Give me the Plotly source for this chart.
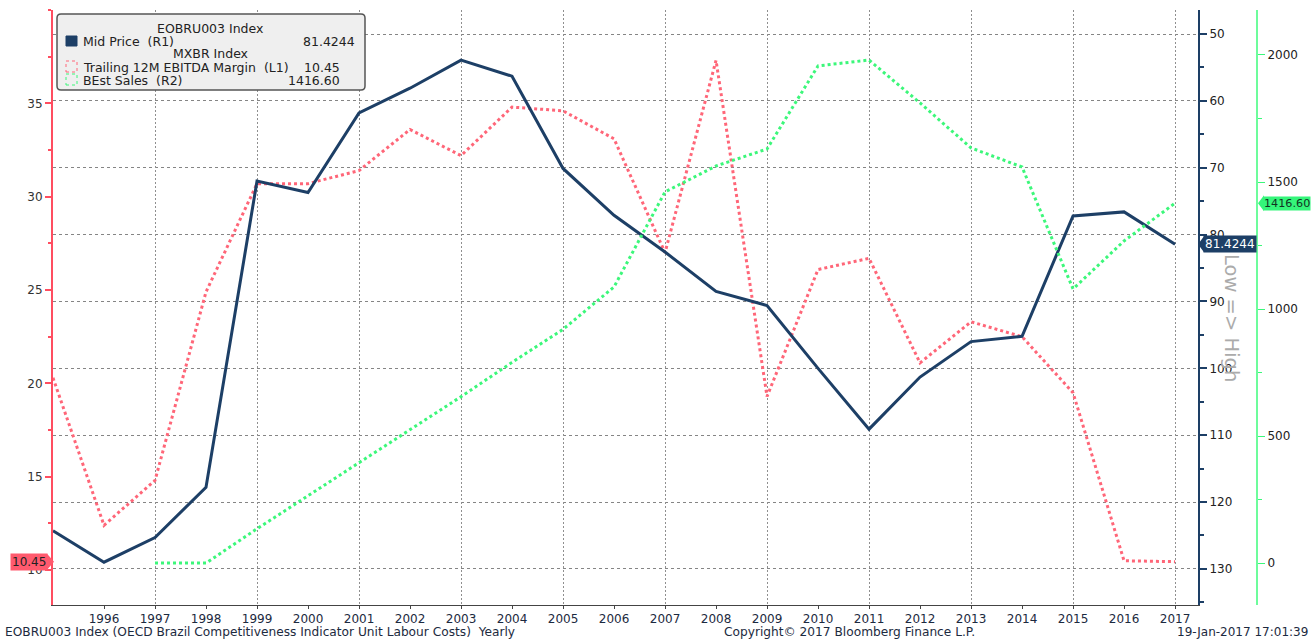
import plotly.graph_objects as go

# ---------------- data ----------------
years = list(range(1995, 2018))
mid_price = [124.3, 129.0, 125.3, 117.8, 72.0, 73.7, 61.8, 58.1, 53.9, 56.3, 70.1,
             77.1, 82.6, 88.5, 90.6, 100.0, 109.1, 101.3, 96.0, 95.2, 77.2, 76.6, 81.4244]
ebitda_margin = [20.3, 12.4, 14.8, 24.9, 30.7, 30.7, 31.4, 33.6, 32.2, 34.8, 34.6,
                 33.1, 27.0, 37.3, 19.3, 26.1, 26.7, 21.1, 23.3, 22.5, 19.5, 10.5, 10.45]
best_sales = [None, None, 0, 0, 135, 265, 395, 525, 655, 790, 920,
              1087, 1461, 1563, 1630, 1957, 1980, 1811, 1634, 1559, 1079, 1268, 1416.60]
year_ticks = list(range(1996, 2018))
grid_years = list(range(1997, 2018, 2))
left_ticks = [10, 15, 20, 25, 30, 35]
r1_ticks = [50, 60, 70, 80, 90, 100, 110, 120, 130]
r2_ticks = [0, 500, 1000, 1500, 2000]

NAVY = "#1d3f66"
RED = "#ff6678"
REDAX = "#ff4d60"
GREEN = "#3cf77a"
GREENAX = "#6dfc9c"
TXT = "#1c2a40"
FONT = "DejaVu Sans"

W, H = 1312, 639
ML, MR, MT, MB = 53, 50, 10, 34
PW = W - ML - MR
PH = H - MT - MB

Y1 = [8.13, 40.0]
Y2 = [135.4, 46.4]
Y3 = [-165, 2177]


def px(x):
    return (x - ML) / PW


def py(y):
    return (H - MB - y) / PH


fig = go.Figure()
fig.add_trace(go.Scatter(x=years, y=ebitda_margin, xaxis="x", yaxis="y", mode="lines",
                         line=dict(color=RED, width=3, dash="dot"), showlegend=False,
                         name="Trailing 12M EBITDA Margin (L1)"))
fig.add_trace(go.Scatter(x=years, y=best_sales, xaxis="x2", yaxis="y3", mode="lines",
                         line=dict(color=GREEN, width=3, dash="dot"), showlegend=False,
                         name="BEst Sales (R2)"))
fig.add_trace(go.Scatter(x=years, y=mid_price, xaxis="x", yaxis="y2", mode="lines",
                         line=dict(color=NAVY, width=3), showlegend=False,
                         name="Mid Price (R1)"))

xr = [1995, 2017.45]
xdom = [0, px(1198)]

fig.update_layout(
    width=W, height=H,
    margin=dict(l=ML, r=MR, t=MT, b=MB),
    paper_bgcolor="white", plot_bgcolor="white",
    font=dict(family=FONT, size=12, color=TXT),
    xaxis=dict(domain=xdom, range=xr, tickvals=year_ticks, ticktext=[str(y) for y in year_ticks],
               showgrid=False, zeroline=False, showline=True, linecolor="#444", linewidth=1,
               ticks="outside", ticklen=3, tickcolor="#444", anchor="y",
               tickfont=dict(size=12, color=TXT)),
    xaxis2=dict(domain=xdom, range=xr, overlaying="x", anchor="y", tickvals=grid_years,
                showticklabels=False, ticks="", showgrid=True, gridcolor="#8f8f8f",
                griddash="2px,2px", gridwidth=1, zeroline=False, showline=False),
    yaxis=dict(range=Y1, tickvals=left_ticks, side="left", anchor="x",
               showgrid=False, zeroline=False, showline=True, linecolor=REDAX, linewidth=2,
               ticks="outside", ticklen=6, tickwidth=2, tickcolor=REDAX,
               minor=dict(dtick=2.5, tick0=10, ticks="outside", ticklen=3, tickcolor=REDAX, showgrid=False),
               tickfont=dict(size=12, color="#333")),
    yaxis2=dict(range=Y2, tickvals=r1_ticks, side="right", overlaying="y", anchor="x",
                showgrid=True, gridcolor="#858585", griddash="3px,3px", gridwidth=1,
                zeroline=False, showline=True, linecolor=NAVY, linewidth=2,
                ticks="outside", ticklen=7, tickwidth=2, tickcolor=NAVY,
                minor=dict(dtick=5, tick0=50, ticks="outside", ticklen=4, tickcolor=NAVY, showgrid=False),
                tickfont=dict(size=12, color="#222")),
    yaxis3=dict(range=Y3, tickvals=r2_ticks, side="right", overlaying="y",
                anchor="free", position=px(1257),
                showgrid=False, zeroline=False, showline=True, linecolor=GREENAX, linewidth=2,
                ticks="outside", ticklen=7, tickwidth=1, tickcolor=GREEN,
                minor=dict(dtick=250, tick0=0, ticks="outside", ticklen=4, tickcolor=GREEN, showgrid=False),
                tickfont=dict(size=12, color="#222")),
)

shapes = []
ann = []


def rounded_rect(x0, y0, x1, y1, r):
    rx = r / PW
    ry = r / PH
    X0, X1 = px(x0), px(x1)
    Yt, Yb = py(y0), py(y1)
    return (f"M {X0+rx},{Yt} L {X1-rx},{Yt} Q {X1},{Yt} {X1},{Yt-ry} "
            f"L {X1},{Yb+ry} Q {X1},{Yb} {X1-rx},{Yb} L {X0+rx},{Yb} "
            f"Q {X0},{Yb} {X0},{Yb+ry} L {X0},{Yt-ry} Q {X0},{Yt} {X0+rx},{Yt} Z")


# legend box
shapes.append(dict(type="path", xref="paper", yref="paper", path=rounded_rect(57, 14, 365, 90, 4),
                   fillcolor="#efefef", line=dict(color="#555", width=1.5), layer="above"))
shapes.append(dict(type="rect", xref="paper", yref="paper", x0=px(66), x1=px(77),
                   y0=py(46), y1=py(36), fillcolor=NAVY, line=dict(color=NAVY, width=1), layer="above"))
shapes.append(dict(type="rect", xref="paper", yref="paper", x0=px(66), x1=px(77),
                   y0=py(72), y1=py(61), fillcolor="rgba(0,0,0,0)",
                   line=dict(color=RED, width=1, dash="dot"), layer="above"))
shapes.append(dict(type="rect", xref="paper", yref="paper", x0=px(66), x1=px(77),
                   y0=py(85), y1=py(74), fillcolor="rgba(0,0,0,0)",
                   line=dict(color=GREEN, width=1, dash="dot"), layer="above"))


def text(x, y, s, anchor="left", size=12.5, color="#222"):
    ann.append(dict(xref="paper", yref="paper", x=px(x), y=py(y), text=s, showarrow=False,
                    xanchor=anchor, yanchor="middle", font=dict(family=FONT, size=size, color=color)))


text(210, 28, "EOBRU003 Index", "center")
text(81, 41, "Mid Price  (R1)")
text(357, 41, "81.4244", "right")
text(210, 54, "MXBR Index", "center")
text(81, 67, "Trailing 12M EBITDA Margin  (L1)")
text(342, 67, "10.45", "right")
text(81, 80, "BEst Sales  (R2)")
text(342, 80, "1416.60", "right")

# bottom captions
text(3, 632, "EOBRU003 Index (OECD Brazil Competitiveness Indicator Unit Labour Costs)  Yearly",
     "left", 12.2, TXT)
text(849, 632, "Copyright\u00a9 2017 Bloomberg Finance L.P.", "center", 12.2, TXT)
text(1310, 632, "19-Jan-2017 17:01:39", "right", 12, TXT)

# Low => High
ann.append(dict(xref="paper", yref="paper", x=px(1231), y=py(318), text="Low => High",
                textangle=90, showarrow=False, xanchor="center", yanchor="middle",
                font=dict(family=FONT, size=19.5, color="#ababab")))


# value tags with arrow tips
def tip(yref, yval, rng, x_base, x_tip, color, half_px=8):
    span = abs(rng[1] - rng[0]) / PH * half_px
    return dict(type="path", xref="paper", yref=yref, layer="above",
                path=f"M {px(x_base)},{yval - span} L {px(x_tip)},{yval} L {px(x_base)},{yval + span} Z",
                fillcolor=color, line=dict(width=0))


shapes.append(tip("y", ebitda_margin[-1], Y1, 47, 54, "#ff5a6e"))
shapes.append(tip("y2", mid_price[-1], Y2, 1204, 1198, NAVY))
shapes.append(tip("y3", best_sales[-1], Y3, 1264, 1258, "#35f57a"))

ann.append(dict(xref="paper", yref="y", x=px(48), y=ebitda_margin[-1], text="10.45",
                showarrow=False, xanchor="right", yanchor="middle", bgcolor="#ff5a6e",
                borderpad=1, font=dict(family=FONT, size=12, color="#222")))
ann.append(dict(xref="paper", yref="y2", x=px(1203), y=mid_price[-1], text="81.4244",
                showarrow=False, xanchor="left", yanchor="middle", bgcolor=NAVY,
                borderpad=1, font=dict(family=FONT, size=12, color="white")))
ann.append(dict(xref="paper", yref="y3", x=px(1263), y=best_sales[-1], text="1416.60",
                showarrow=False, xanchor="left", yanchor="middle", bgcolor="#35f57a",
                borderpad=0, font=dict(family=FONT, size=11.2, color="#113322")))

fig.update_layout(shapes=shapes, annotations=ann)

fig.write_html("out.html", config={"displayModeBar": False},
               post_script="document.body.style.margin='0';")
